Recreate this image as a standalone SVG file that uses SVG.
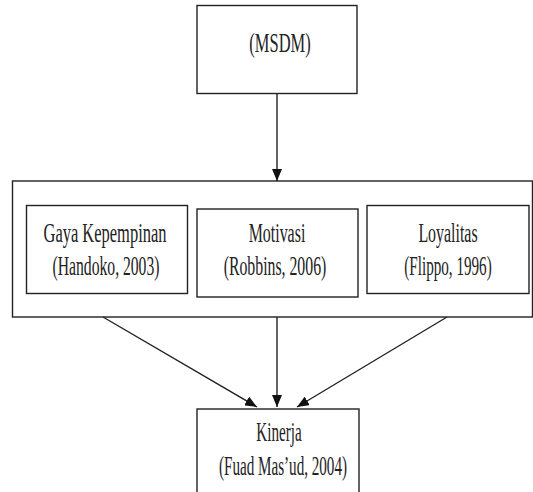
<svg xmlns="http://www.w3.org/2000/svg" width="533" height="492" viewBox="0 0 533 492">
<style>
.box{fill:#fff;stroke:#222;stroke-width:1.4}
.lbl{font-family:'Liberation Serif','Times New Roman',serif;font-size:27px;fill:#222;text-anchor:middle}
.con{stroke:#222;stroke-width:1.4;fill:none;marker-end:url(#ah)}
</style>
<defs>
<marker id="ah" viewBox="0 0 12 10" refX="12" refY="5" markerWidth="12" markerHeight="10" markerUnits="userSpaceOnUse" orient="auto">
<path d="M0,0 L12,5 L0,10 z" fill="#111"/>
</marker>
</defs>
<rect width="533" height="492" fill="#fff"/>
<g id="msdm">
<rect class="box" x="197" y="5.5" width="160" height="88"/>
<text class="lbl" transform="translate(280,52) scale(0.61,1)">(MSDM)</text>
</g>
<g id="group">
<rect class="box" x="12.5" y="181" width="520" height="136"/>
</g>
<g id="gaya">
<rect class="box" x="26.5" y="205.5" width="161" height="88"/>
<text class="lbl" transform="translate(105,242) scale(0.61,1)">Gaya Kepempinan</text>
<text class="lbl" transform="translate(106,275) scale(0.58,1)">(Handoko, 2003)</text>
</g>
<g id="motivasi">
<rect class="box" x="197" y="209" width="161" height="88"/>
<text class="lbl" transform="translate(277,242) scale(0.59,1)">Motivasi</text>
<text class="lbl" transform="translate(275,275) scale(0.585,1)">(Robbins, 2006)</text>
</g>
<g id="loyalitas">
<rect class="box" x="367" y="205.5" width="162" height="88"/>
<text class="lbl" transform="translate(448,242) scale(0.59,1)">Loyalitas</text>
<text class="lbl" transform="translate(448,275) scale(0.56,1)">(Flippo, 1996)</text>
</g>
<g id="kinerja">
<rect class="box" x="197" y="409" width="162" height="90"/>
<text class="lbl" transform="translate(279,441) scale(0.56,1)">Kinerja</text>
<text class="lbl" transform="translate(283,475) scale(0.56,1)">(Fuad Mas’ud, 2004)</text>
</g>
<g id="connectors">
<line class="con" x1="277" y1="94" x2="277" y2="181"/>
<line class="con" x1="103" y1="317" x2="257" y2="407"/>
<line class="con" x1="277" y1="317" x2="277" y2="407"/>
<line class="con" x1="447" y1="317" x2="297" y2="407"/>
</g>
</svg>
